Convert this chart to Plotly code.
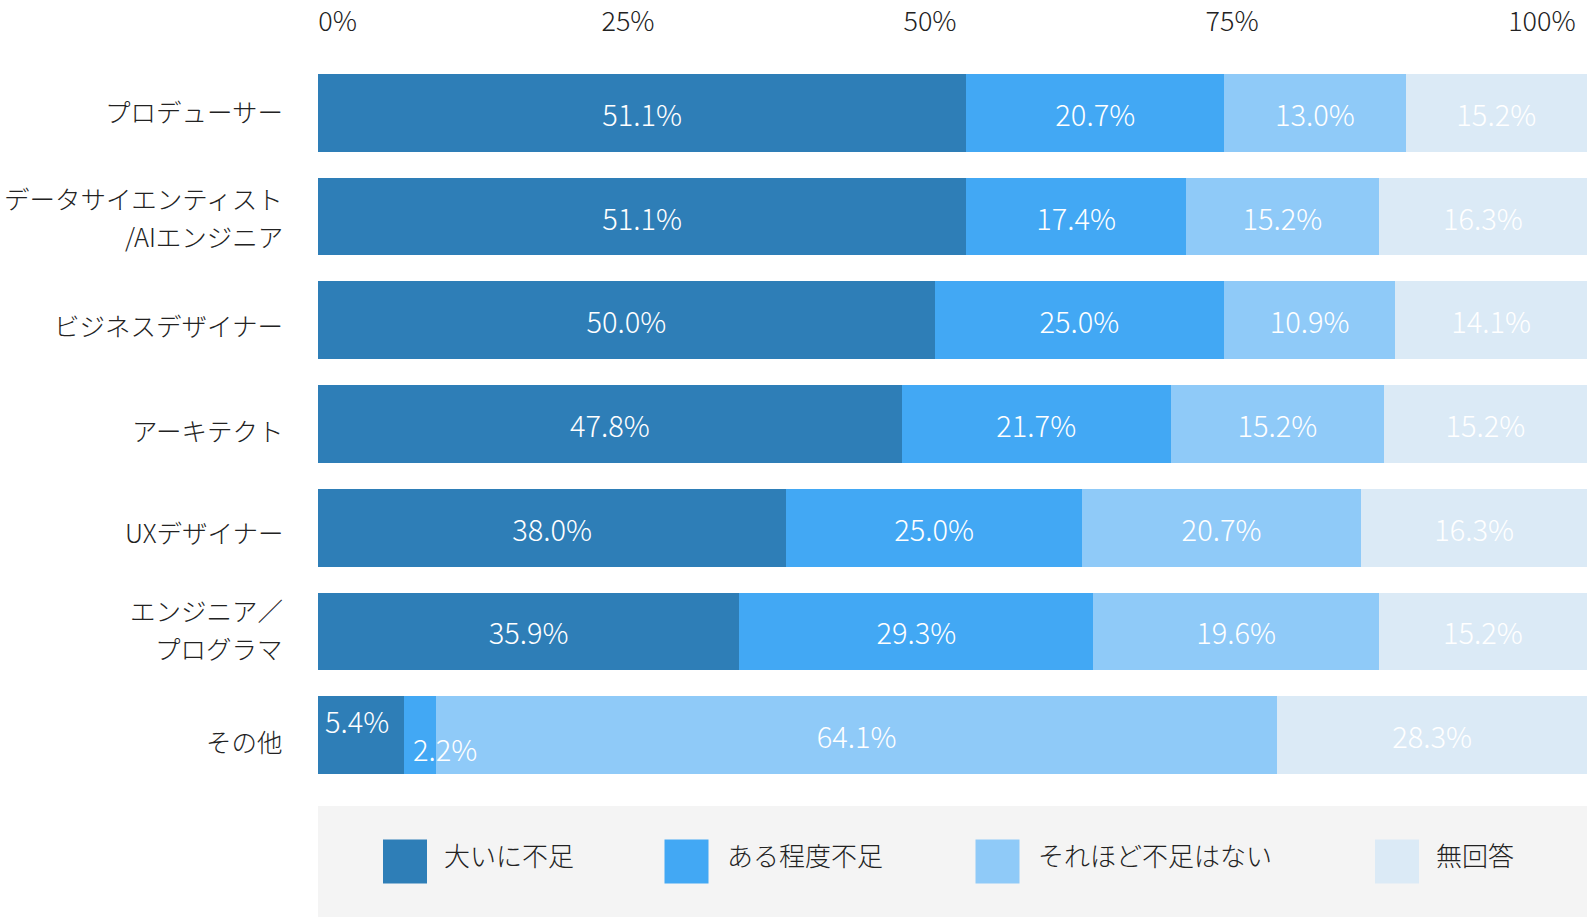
import plotly.graph_objects as go

# 職種ごとの人材不足感
categories = ['プロデューサー', 'データサイエンティスト<br>/AIエンジニア', 'ビジネスデザイナー',
              'アーキテクト', 'UXデザイナー', 'エンジニア／<br>プログラマ', 'その他']
series_names = ['大いに不足', 'ある程度不足', 'それほど不足はない', '無回答']

# 棒に書かれている数値 (%)
label_very_short = [51.1, 51.1, 50.0, 47.8, 38.0, 35.9, 5.4]
label_some_short = [20.7, 17.4, 25.0, 21.7, 25.0, 29.3, 2.2]
label_not_short = [13.0, 15.2, 10.9, 15.2, 20.7, 19.6, 64.1]
label_no_answer = [15.2, 16.3, 14.1, 15.2, 16.3, 15.2, 28.3]

# 棒の長さ (%) ― 元の図の棒はラベルと少しずれているので、棒から読み取った値
bar_very_short = [51.1, 51.1, 48.6, 46.0, 36.9, 33.2, 6.8]
bar_some_short = [20.3, 17.3, 22.8, 21.2, 23.3, 27.9, 2.5]
bar_not_short = [14.3, 15.2, 13.5, 16.8, 22.0, 22.5, 66.3]
bar_no_answer = [14.3, 16.4, 15.1, 16.0, 17.8, 16.4, 24.4]

tick_text = ['0%', '25%', '50%', '75%', '100%']

colors = ['#2e7eb7', '#42a8f4', '#8fcaf8', '#dbeaf6']
FONT = 'Noto Sans CJK JP Light, Noto Sans CJK JP, sans-serif'
TXT = '#222222'

fig = go.Figure()
bars = [bar_very_short, bar_some_short, bar_not_short, bar_no_answer]
labels_all = [label_very_short, label_some_short, label_not_short, label_no_answer]
for name, vals, labs, col in zip(series_names, bars, labels_all, colors):
    labels = [f'{v:.1f}%' for v in labs]
    # その他の小さい値は注釈で別に描く
    if name in ('大いに不足', 'ある程度不足'):
        labels[-1] = ''
    fig.add_trace(go.Bar(
        y=categories, x=vals, name=name, orientation='h',
        marker=dict(color=col, line=dict(width=0)),
        text=labels, textposition='inside', insidetextanchor='middle',
        textfont=dict(family=FONT, size=29, color='white', weight=300),
        textangle=0, showlegend=False, hoverinfo='skip',
    ))

# その他の行のラベル
fig.add_annotation(x=0, y=categories[-1], text=f'{label_very_short[-1]:.1f}%', showarrow=False,
                   xanchor='left', xshift=5, yshift=15,
                   font=dict(family=FONT, size=29, color='white', weight=300))
fig.add_annotation(x=bar_very_short[-1], y=categories[-1], text=f'{label_some_short[-1]:.1f}%',
                   showarrow=False, xanchor='left', xshift=7, yshift=-13,
                   font=dict(family=FONT, size=29, color='white', weight=300))

# 項目名 (2行のものは行間を広めに)
name_yshift = [2, 0, -4, -6, -4, 3, -5]
for cat, base in zip(categories, name_yshift):
    lines = cat.split('<br>')
    shifts = [0] if len(lines) == 1 else [19, -19]
    for line, ys in zip(lines, shifts):
        fig.add_annotation(x=0, xref='paper', y=cat, yref='y', text=line, showarrow=False,
                           xanchor='right', yanchor='middle', xshift=-33, yshift=base + ys,
                           font=dict(family=FONT, size=25.5, color=TXT, weight=300))

# 凡例 (下部の灰色の帯)
legend_x = [405, 686.5, 997.5, 1397]
legend_text_x = [442, 725, 1036, 1434]
fig.add_trace(go.Scatter(
    x=legend_x, y=[0.5] * 4, xaxis='x2', yaxis='y2', mode='markers',
    marker=dict(symbol='square', size=44, color=colors, line=dict(width=0)),
    showlegend=False, hoverinfo='skip',
))
for name, tx in zip(series_names, legend_text_x):
    fig.add_annotation(x=tx, y=0.5, xref='x2', yref='y2', text=name, showarrow=False,
                       xanchor='left', yanchor='middle', yshift=7,
                       font=dict(family=FONT, size=26, color=TXT, weight=300))
fig.add_shape(type='rect', xref='x2 domain', yref='y2 domain', x0=0, x1=1, y0=0, y1=1,
              fillcolor='#f4f4f4', line=dict(width=0), layer='below')

fig.update_layout(
    width=1589, height=918,
    margin=dict(l=318, r=2, t=61, b=1),
    barmode='stack', bargap=0.25,
    plot_bgcolor='white', paper_bgcolor='white',
    font=dict(family=FONT, color=TXT, weight=300),
    hovermode=False,
    xaxis=dict(range=[0, 100.001], side='top', showgrid=False, zeroline=False, showline=False,
               tickvals=[1.54, 24.43, 48.23, 72.03, 96.45], ticktext=tick_text,
               ticks='', ticklabelstandoff=24, automargin=False,
               tickfont=dict(family=FONT, size=27, color=TXT, weight=300),
               domain=[0, 1], anchor='y', fixedrange=True),
    yaxis=dict(domain=[0.1519, 1], autorange='reversed', showgrid=False, zeroline=False,
               showline=False, showticklabels=False, automargin=False, fixedrange=True),
    xaxis2=dict(domain=[0, 1], range=[318, 1587], anchor='y2', visible=False, fixedrange=True),
    yaxis2=dict(domain=[0, 0.1297], range=[0, 1], anchor='x2', visible=False, fixedrange=True),
)

# ページ本体の余白を消して、図を左上にぴったり置く
fig.write_html('out.html', config={'displayModeBar': False},
               post_script="document.body.style.margin='0';")
